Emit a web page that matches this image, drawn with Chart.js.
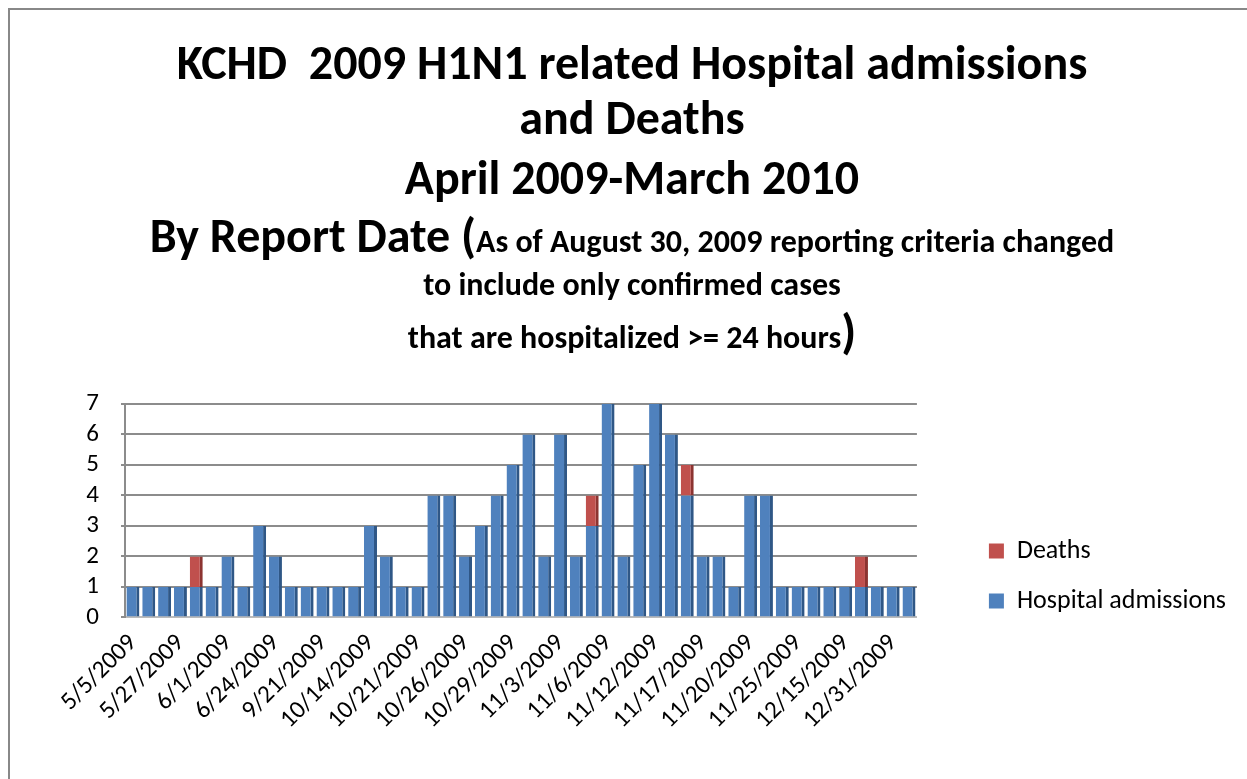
<html lang="en">
<head>
    <meta charset="UTF-8">
    <title>KCHD 2009 H1N1</title>
    <script src="https://cdn.jsdelivr.net/npm/chart.js"></script>
    <style>
        body { margin: 0; background: #fff; }
        #frame { position: absolute; left: 8px; top: 8px; width: 1239px; height: 771px;
                 border-top: 2px solid #888; border-left: 2px solid #888; }
        canvas { position: absolute; left: 0; top: 0; }
    </style>
</head>
<body>
    <div id="frame"></div>
    <canvas id="h1n1Chart" width="1247" height="779"></canvas>
    <script>
        // date labels shown under every third bar
        var tickLabels = ['5/5/2009', '5/27/2009', '6/1/2009', '6/24/2009', '9/21/2009', '10/14/2009',
            '10/21/2009', '10/26/2009', '10/29/2009', '11/3/2009', '11/6/2009', '11/12/2009',
            '11/17/2009', '11/20/2009', '11/25/2009', '12/15/2009', '12/31/2009'];

        var admissions = [1, 1, 1, 1, 1, 1, 2, 1, 3, 2,
                          1, 1, 1, 1, 1, 3, 2, 1, 1, 4,
                          4, 2, 3, 4, 5, 6, 2, 6, 2, 3,
                          7, 2, 5, 7, 6, 4, 2, 2, 1, 4,
                          4, 1, 1, 1, 1, 1, 1, 1, 1, 1];
        var deaths = [0, 0, 0, 0, 1, 0, 0, 0, 0, 0,
                      0, 0, 0, 0, 0, 0, 0, 0, 0, 0,
                      0, 0, 0, 0, 0, 0, 0, 0, 0, 1,
                      0, 0, 0, 0, 0, 1, 0, 0, 0, 0,
                      0, 0, 0, 0, 0, 0, 1, 0, 0, 0];

        var titleLines = ['KCHD  2009 H1N1 related Hospital admissions', 'and Deaths', 'April 2009-March 2010'];
        var noteLead = 'By Report Date (';
        var noteLines = ['As of August 30, 2009 reporting criteria changed', 'to include only confirmed cases',
            'that are hospitalized >= 24 hours'];
        var noteClose = ')';

        var categories = admissions.map(function (v, i) { return i % 3 === 0 ? tickLabels[i / 3] : ''; });

        var FONT = 'Carlito, Lato, "Open Sans", sans-serif';
        Chart.defaults.font.family = FONT;
        Chart.defaults.color = '#000';

        // title block: mixed sizes on one line, so draw it by hand
        var headerText = {
            id: 'headerText',
            afterDraw: function (chart) {
                var ctx = chart.ctx;
                ctx.save();
                ctx.fillStyle = '#000';
                ctx.textBaseline = 'alphabetic';
                function line(parts, y) {
                    var total = 0;
                    parts.forEach(function (p) {
                        ctx.font = 'bold ' + p[1] + 'px ' + FONT;
                        p.w = ctx.measureText(p[0]).width;
                        total += p.w;
                    });
                    var x = 632 - total / 2;
                    parts.forEach(function (p) {
                        ctx.font = 'bold ' + p[1] + 'px ' + FONT;
                        ctx.fillText(p[0], x, y);
                        x += p.w;
                    });
                }
                line([[titleLines[0], 48]], 79);
                line([[titleLines[1], 48]], 134);
                line([[titleLines[2], 48]], 194);
                line([[noteLead, 48], [noteLines[0], 32]], 252);
                line([[noteLines[1], 32]], 295);
                line([[noteLines[2], 32], [noteClose, 48]], 348);
                ctx.restore();
            }
        };

        // leave a gap between the plot and the legend
        var legendGap = {
            id: 'legendGap',
            beforeInit: function (chart) {
                var fit = chart.legend.fit;
                chart.legend.fit = function () {
                    fit.call(this);
                    this.width += 55;
                };
            },
            afterLayout: function (chart) {
                chart.legend.left += 48;
                chart.legend.top += 5;
                chart.legend.bottom += 5;
            }
        };

        var ctx = document.getElementById('h1n1Chart').getContext('2d');
        var h1n1Chart = new Chart(ctx, {
            type: 'bar',
            data: {
                labels: categories,
                datasets: [{
                    label: 'Hospital admissions',
                    data: admissions,
                    backgroundColor: '#4F81BD',
                    borderColor: '#2F5786',
                    borderWidth: { left: 0, right: 3, top: 0, bottom: 0 }
                }, {
                    label: 'Deaths',
                    data: deaths,
                    backgroundColor: '#C0504D',
                    borderColor: '#8C3431',
                    borderWidth: { left: 0, right: 3, top: 0, bottom: 0 }
                }]
            },
            options: {
                responsive: false,
                animation: false,
                layout: { padding: { top: 404, left: 70, right: 4, bottom: 41 } },
                datasets: { bar: { barPercentage: 0.82, categoryPercentage: 1 } },
                scales: {
                    x: {
                        stacked: true,
                        grid: { display: false },
                        border: { color: '#bbb', width: 2 },
                        ticks: { autoSkip: false, minRotation: 45, maxRotation: 45, font: { size: 25 } }
                    },
                    y: {
                        stacked: true,
                        min: 0,
                        max: 7,
                        afterFit: function (scale) { scale.width = 55; },
                        ticks: { stepSize: 1, autoSkip: false, font: { size: 25 }, padding: 22 },
                        grid: { color: '#8c8c8c', lineWidth: 2, tickLength: 4 },
                        border: { color: '#8c8c8c', width: 2 }
                    }
                },
                plugins: {
                    legend: {
                        position: 'right',
                        reverse: true,
                        labels: {
                            boxWidth: 15,
                            boxHeight: 15,
                            padding: 24,
                            font: { size: 26 },
                            generateLabels: function (chart) {
                                return Chart.defaults.plugins.legend.labels.generateLabels(chart).map(function (l) {
                                    l.lineWidth = 0;
                                    return l;
                                });
                            }
                        }
                    },
                    tooltip: { enabled: false }
                }
            },
            plugins: [headerText, legendGap]
        });
    </script>
</body>
</html>
